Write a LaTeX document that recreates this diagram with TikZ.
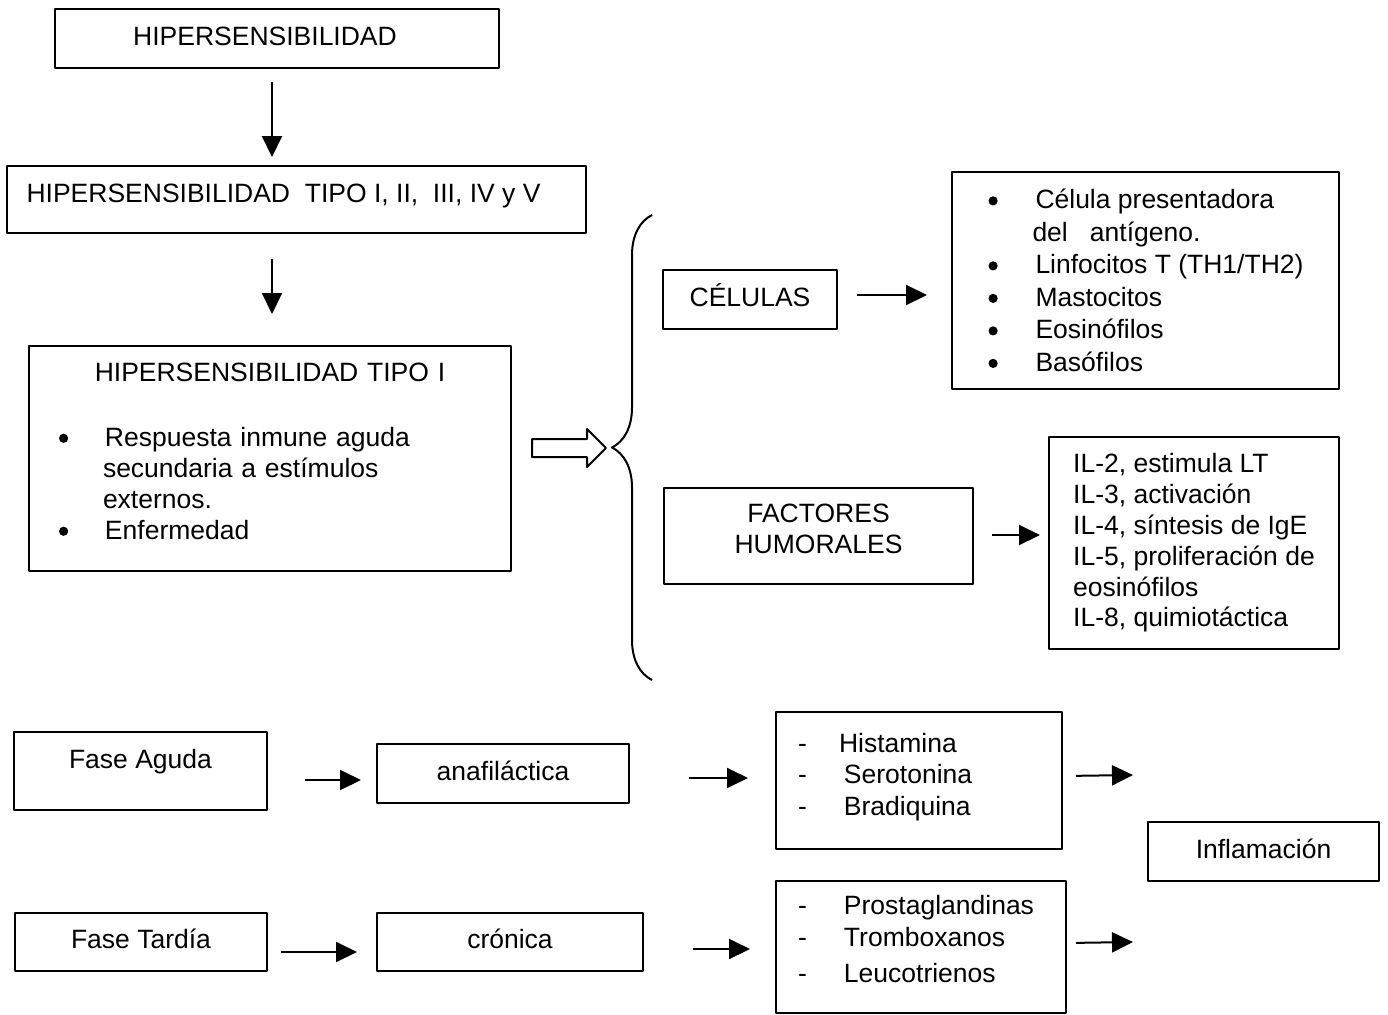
\documentclass[tikz,border=0pt]{standalone}
\usepackage{fontspec}
\setmainfont{Liberation Sans}
\usetikzlibrary{arrows.meta,decorations.pathreplacing}
\newcommand{\blt}[1][24pt]{\makebox[#1][l]{\hspace{0.5pt}\tikz[baseline=-4pt]\fill (0,0) circle (2.3pt);}}
\newcommand{\guion}{\makebox[23pt][l]{-}}
\tikzset{
  caja/.style={draw, line width=1pt, inner sep=0pt, anchor=north west},
  una/.style={text height=9.5pt, text depth=3pt},
  flecha/.style={-{Triangle[length=10.5pt,width=10pt]}, line width=1pt},
}
\begin{document}
\begin{tikzpicture}[x=0.5pt, y=-0.5pt, font=\fontsize{13.25pt}{15.75pt}\selectfont, line join=round]
  \useasboundingbox (0,0) rectangle (1388,1014);
  % columna izquierda
  \node[caja, una, minimum width=222pt, minimum height=29.5pt] (hip) at (54,8) {HIPERSENSIBILIDAD\kern12pt\relax};
  \node[caja, text height=9.5pt, text depth=6.5pt, minimum width=289.5pt, minimum height=33.5pt] (tipos) at (6,165) {HIPERSENSIBILIDAD\ \ TIPO I, II,\ \ III, IV y V\kern13pt\relax};
  \node[caja, minimum width=241pt, minimum height=112.5pt, inner xsep=14.5pt, text width=212pt, align=left,
        font=\fontsize{13.25pt}{15.5pt}\selectfont] (tipoI) at (28,345)
        {\makebox[212pt]{HIPERSENSIBILIDAD TIPO I}\\[17pt]
         \blt[23.5pt]Respuesta inmune aguda\\ \hspace*{22.5pt}secundaria a estímulos\\ \hspace*{22.5pt}externos.\\
         \blt[23.5pt]Enfermedad\\[-8pt]\mbox{}};
  % celulas y factores
  \node[caja, una, minimum width=87pt, minimum height=29.5pt] (cel) at (662,269) {CÉLULAS};
  \node[caja, align=left, minimum width=193.5pt, minimum height=108.5pt, font=\fontsize{13.25pt}{16.25pt}\selectfont] (lcel) at (951,171)
        {\blt Célula presentadora\\ \hspace*{22.5pt}del\ \ \ antígeno.\\ \blt Linfocitos T (TH1/TH2)\\ \blt Mastocitos\\ \blt Eosinófilos\\ \blt Basófilos};
  \node[caja, align=center, minimum width=154.5pt, minimum height=48pt, font=\fontsize{13.25pt}{15.5pt}\selectfont] (fac) at (663,487) {FACTORES\\HUMORALES\\[-8.5pt]\mbox{}};
  \node[caja, align=left, minimum width=145pt, minimum height=106pt, font=\fontsize{13.25pt}{15.4pt}\selectfont] (lil) at (1048,436)
        {IL-2, estimula LT\\IL-3, activación\\IL-4, síntesis de IgE\\IL-5, proliferación de\\eosinófilos\\IL-8, quimiotáctica};
  % fases
  \node[caja, text height=9.5pt, text depth=12pt, minimum width=126.5pt, minimum height=39pt] (fa) at (13,731) {Fase Aguda};
  \node[caja, una, minimum width=126pt, minimum height=29.5pt] (ana) at (376,743) {anafiláctica};
  \node[caja, align=left, inner xsep=11pt, text width=121pt, minimum height=68.5pt] (his) at (775,711)
        {\guion\hspace*{-2.5pt}Histamina\\ \guion Serotonina\\ \guion Bradiquina\\[-9.5pt]\mbox{}};
  \node[caja, una, minimum width=115.5pt, minimum height=29.5pt] (inf) at (1147,821) {Inflamación};
  \node[caja, una, minimum width=126pt, minimum height=29pt] (ft) at (14,912) {Fase Tardía};
  \node[caja, una, minimum width=133pt, minimum height=29pt] (cro) at (376,912) {crónica};
  \node[caja, align=left, inner xsep=11pt, text width=123pt, minimum height=66pt] (pro) at (775,880)
        {\guion Prostaglandinas\\ \guion Tromboxanos\\[2.5pt] \guion Leucotrienos\\[-7.75pt]\mbox{}};
  \coordinate (finA) at (1133,775);
  \coordinate (finB) at (1133,942);
  % flechas
  \draw[flecha, shorten <=6.5pt, shorten >=4pt] ([xshift=-2.5pt]hip.south) -- ([xshift=-12.25pt]tipos.north);
  \draw[flecha, shorten <=12.5pt, shorten >=15.5pt] ([xshift=-12.25pt]tipos.south) -- ([xshift=1pt]tipoI.north);
  \draw[flecha, shorten <=9.5pt, shorten >=12pt] ([yshift=2.25pt]cel.east) -- ([yshift=-7.25pt]lcel.west);
  \draw[flecha, shorten <=9pt, shorten >=4pt] ([yshift=0.5pt]fac.east) -- ([yshift=4pt]lil.west);
  \draw[flecha, shorten <=18.5pt, shorten >=7.5pt] ([yshift=-4.5pt]fa.east) -- ([yshift=-3.25pt]ana.west);
  \draw[flecha, shorten <=29.5pt, shorten >=13.5pt] ([yshift=-2.25pt]ana.east) -- ([yshift=1.25pt]his.west);
  \draw[flecha, shorten <=6.5pt] ([yshift=2.25pt]his.east) -- (finA);
  \draw[flecha, shorten <=6.5pt, shorten >=9.5pt] ([yshift=-5pt]ft.east) -- ([yshift=-5pt]cro.west);
  \draw[flecha, shorten <=24.5pt, shorten >=12.5pt] ([yshift=-3.5pt]cro.east) -- ([yshift=-1pt]pro.west);
  \draw[flecha, shorten <=4.5pt] ([yshift=2pt]pro.east) -- (finB);
  % flecha hueca y llave
  \draw[line width=1pt] (532,439) -- (587,439) -- (587,429) -- (606,448) -- (587,467) -- (587,457) -- (532,457) -- cycle;
  \draw[line width=1pt, decorate, decoration={brace, amplitude=20pt}] (652,680) -- (652,215);
\end{tikzpicture}
\end{document}
